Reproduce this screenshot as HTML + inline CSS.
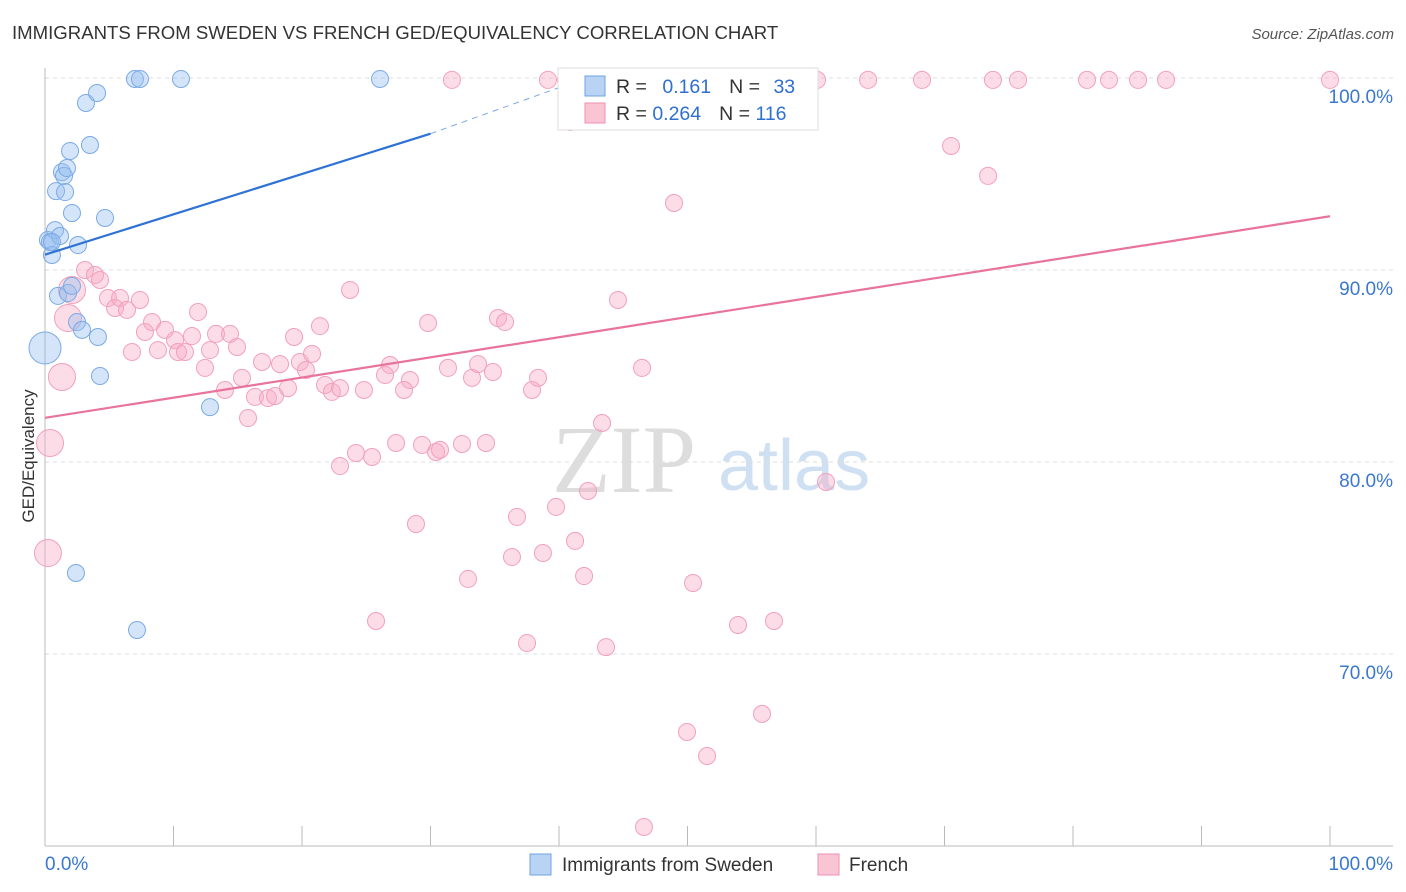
<!DOCTYPE html>
<html><head><meta charset="utf-8"><style>
body{margin:0;background:#fff;font-family:"Liberation Sans",sans-serif;}
svg{display:block}
</style></head><body>
<svg width="1406" height="892" id="c">
<text x="12" y="39" font-size="18.6" fill="#333">IMMIGRANTS FROM SWEDEN VS FRENCH GED/EQUIVALENCY CORRELATION CHART</text>
<text x="1394" y="39" font-size="15" fill="#555" font-style="italic" text-anchor="end">Source: ZipAtlas.com</text>
<text transform="translate(34,456) rotate(-90)" font-size="17" fill="#333" text-anchor="middle">GED/Equivalency</text>
<g><text x="552" y="492" font-size="96" fill="#ddd" font-family="Liberation Serif,serif">ZIP</text><text x="718" y="490" font-size="72" fill="#cfe0f3">atlas</text></g>
<g id="grid"></g><g id="marks"></g>
<g>
<rect x="558" y="68" width="260" height="62" fill="#fff" stroke="#ddd"/>
<rect x="585" y="76" width="20" height="20" fill="#b8d3f3" stroke="#6fa3e0"/>
<rect x="585" y="103" width="20" height="20" fill="#f9c4d4" stroke="#ee8fae"/>
<text x="616" y="93" font-size="19.5" fill="#333">R = <tspan fill="#2f6fd0" dx="10">0.161</tspan><tspan dx="18">N = </tspan><tspan fill="#2f6fd0" dx="8">33</tspan></text>
<text x="616" y="120" font-size="19.5" fill="#333">R = <tspan fill="#2f6fd0">0.264</tspan><tspan dx="18">N = </tspan><tspan fill="#2f6fd0">116</tspan></text>
</g>
<g>
<rect x="530" y="854" width="21" height="21" fill="#b8d3f3" stroke="#6fa3e0"/>
<text x="562" y="871" font-size="19" fill="#333">Immigrants from Sweden</text>
<rect x="818" y="854" width="21" height="21" fill="#f9c4d4" stroke="#ee8fae"/>
<text x="849" y="871" font-size="19" fill="#333">French</text>
</g>
</svg>
<script>
const yTicks=[100,90,80,70];
const yTickLabels=["100.0%","90.0%","80.0%","70.0%"];
const xTickLabels=["0.0%","100.0%"];
const swedenX=[0,0.23,0.39,0.54,0.78,1.17,0.86,1.56,1.32,1.48,1.71,1.95,2.1,2.57,3.19,4.05,3.5,4.67,7.0,7.39,10.58,26.07,1.01,1.79,2.1,2.49,2.88,4.12,4.28,12.84,2.41,7.16,0.54];
const swedenY=[85.94,91.56,91.46,90.78,92.08,91.77,94.11,94.06,95.1,94.9,95.31,96.2,92.97,91.3,98.7,99.22,96.51,92.71,99.95,99.95,99.95,99.95,88.65,88.8,89.17,87.29,86.88,86.51,84.48,82.86,74.22,71.25,91.46];
const frenchX=[0.39,0.23,1.32,1.79,2.1,3.11,3.89,4.28,4.9,5.45,5.84,6.38,7.39,6.77,7.78,8.33,8.79,9.34,10.12,10.35,10.89,11.44,11.91,12.45,12.84,13.31,14.4,14.94,14.01,15.33,15.8,16.34,16.89,17.35,17.9,18.29,18.91,19.38,19.84,20.31,20.78,21.4,21.79,22.33,22.96,23.74,24.82,26.85,26.46,28.4,27.94,29.81,22.96,24.2,25.45,27.32,29.34,30.43,30.74,31.36,32.45,33.23,33.7,34.86,35.25,35.8,34.32,37.9,38.37,31.67,39.14,40.54,46.93,52.53,55.18,60.08,64.05,68.25,73.77,75.72,81.09,82.8,85.06,87.24,100,40.86,48.95,44.59,46.46,43.35,42.26,39.77,36.73,28.87,36.34,38.75,41.25,41.95,32.92,25.76,37.51,43.66,50.43,53.93,56.73,60.78,70.51,73.39,49.96,51.52,55.8,46.61,55.49];
const frenchY=[80.99,75.26,84.43,87.5,88.96,90.0,89.74,89.48,88.54,88.02,88.54,87.92,88.44,85.73,86.77,87.29,85.83,86.88,86.35,85.73,85.73,86.56,87.81,84.9,85.83,86.67,86.67,85.99,83.75,84.38,82.29,83.39,85.21,83.33,83.44,85.1,83.85,86.51,85.21,84.79,85.63,87.08,84.01,83.65,83.85,88.96,83.75,85.05,84.53,84.27,83.75,87.24,79.79,80.47,80.26,80.99,80.89,80.52,80.63,84.9,80.94,84.38,85.1,84.69,87.5,87.29,80.99,83.75,84.38,99.9,99.9,99.9,99.9,99.9,99.9,99.9,99.9,99.9,99.9,99.9,99.9,99.9,99.9,99.9,99.9,97.71,93.49,88.44,84.9,82.03,78.49,77.66,77.14,76.77,75.05,75.26,75.89,74.06,73.91,71.72,70.57,70.36,73.7,71.51,71.72,78.96,96.46,94.9,65.94,64.69,66.88,60.99,97.81];
const swedenBig=[0];
const frenchBig=[0,1,2,3,4];
const swedenTrend=[[0,90.8],[30,97.1]];
const swedenTrendExt=[[30,97.1],[40,99.5]];
const frenchTrend=[[0,82.3],[100,92.8]];
const NS="http://www.w3.org/2000/svg";
const xs=v=>45+v*12.85, ys=v=>78+(100-v)*19.2;
function mk(t,a,p){const e=document.createElementNS(NS,t);for(const k in a)e.setAttribute(k,a[k]);p.appendChild(e);return e;}
const grid=document.getElementById('grid'),marks=document.getElementById('marks');
yTicks.forEach((t,i)=>{
 const l=mk('line',{x1:45,x2:1393,y1:ys(t),y2:ys(t),stroke:'#ddd','stroke-dasharray':'4,4'},grid);
 
 
 const tx=mk('text',{x:1393,y:ys(t)+25,'font-size':19,fill:'#3a78d0','text-anchor':'end'},grid);
 tx.textContent=yTickLabels[i];
 
 
});
const ax=mk('line',{x1:45,x2:45,y1:68,y2:846,stroke:'#bbb'},grid);


const bx=mk('line',{x1:45,x2:1393,y1:846,y2:846,stroke:'#bbb'},grid);


for(let i=0;i<=10;i++){const t=mk('line',{x1:xs(i*10),x2:xs(i*10),y1:826,y2:846,stroke:'#bbb'},grid);
 
 }
[[0,'start',45],[1,'end',1393]].forEach(([i,a,x])=>{const t=mk('text',{x:x,y:870,'font-size':19,fill:'#3a78d0','text-anchor':a},grid);t.textContent=xTickLabels[i];
 
 });
function pts(X,Y,big,bigR,fill,stroke,name){X.forEach((x,i)=>{const r=big.indexOf(i)>=0?bigR:8.5;
 const c=mk('circle',{cx:xs(x),cy:ys(Y[i]),r:r,fill:fill,stroke:stroke,'stroke-width':1},marks);
 
 });}
pts(frenchX,frenchY,frenchBig,13.5,'rgba(247,170,195,0.4)','#f2a0bb','point-french');
pts(swedenX,swedenY,swedenBig,16,'rgba(150,190,240,0.4)','#7aaae6','point-sweden');
function ln(d,col,dash,name){const l=mk('line',{x1:xs(d[0][0]),y1:ys(d[0][1]),x2:xs(d[1][0]),y2:ys(d[1][1]),stroke:col,'stroke-width':dash?1:2.2},marks);if(dash)l.setAttribute('stroke-dasharray','6,5');
 
 }
ln(frenchTrend,'#e8739b',false,'trendline-french');
ln(swedenTrend,'#2f72d6',false,'trendline-sweden');
ln(swedenTrendExt,'#7aaae6',true,'trendline-sweden-extension');
</script>
</body></html>
